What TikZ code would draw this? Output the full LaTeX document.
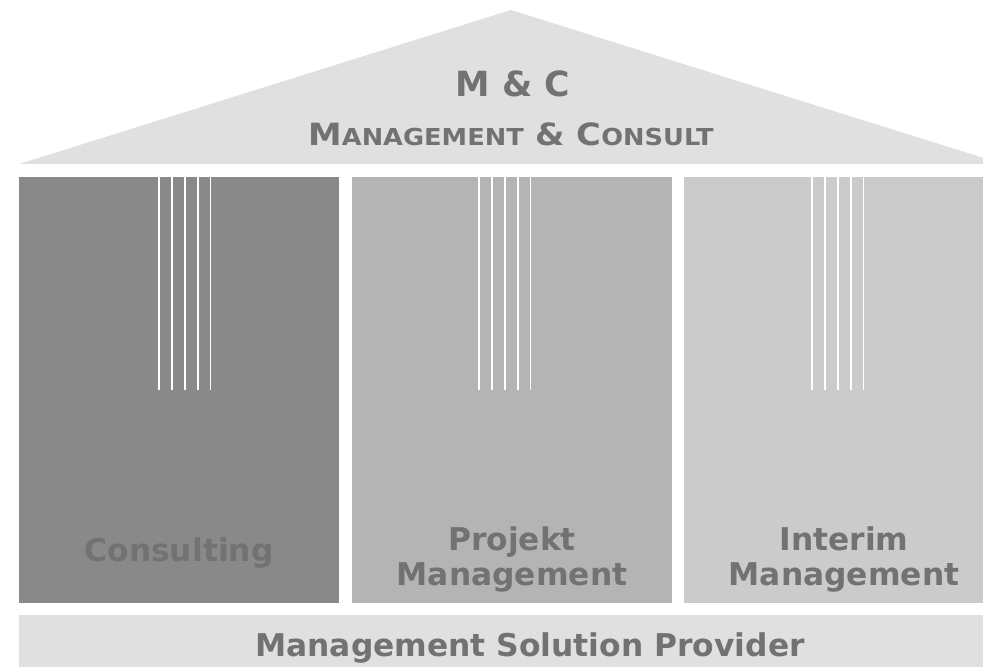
\documentclass[tikz,border=0pt]{standalone}
\usepackage{fontspec}
\setmainfont{DejaVu Sans}
\newfontfamily\widesans[FakeStretch=1.1]{DejaVu Sans}
\usepackage{tikz}
\usetikzlibrary{positioning}

\definecolor{roofgray}{HTML}{E0E0E0}
\definecolor{pillarA}{HTML}{898989}
\definecolor{pillarB}{HTML}{B4B4B4}
\definecolor{pillarC}{HTML}{CBCBCB}
\definecolor{textgray}{HTML}{727272}

\tikzset{
  pillartext/.style={text=textgray, font=\bfseries\fontsize{23.5}{26.25}\selectfont, align=center, inner sep=0pt},
  groove/.style={draw=white, line width=1.3pt}
}

\begin{document}
\begin{tikzpicture}[x=0.75pt,y=-0.75pt]
    \useasboundingbox (0,0) rectangle (983,667);
    \clip (0,0) rectangle (983,667);
    \fill[roofgray] (19,164) -- (511,10) -- (1003,164) -- cycle;
    \fill[pillarA] (19,177) rectangle (339,603);
    \fill[pillarB] (352,177) rectangle (672,603);
    \fill[pillarC] (684,177) rectangle (1004,603);
    \fill[roofgray] (19,615) rectangle (1004,690);
    \foreach \gx in {159,479,812}
      \foreach \i in {0,...,4}
        \draw[groove] (\gx+12.9*\i,177) -- (\gx+12.9*\i,390);
    \node[pillartext, anchor=base, font=\bfseries\fontsize{26}{30}\selectfont] (mc) at (513,97) {M \& C};
    \node[pillartext, anchor=base, font=\widesans\bfseries\fontsize{23}{26}\selectfont] (firm) at (511,146) {M{\fontsize{17.5}{20}\selectfont ANAGEMENT} \& C{\fontsize{17.5}{20}\selectfont ONSULT}};
    \node[pillartext, anchor=base] (consulting) at (179,561) {Consulting};
    \node[pillartext, anchor=base] (projekt) at (512,585) {Projekt\\Management};
    \node[pillartext, anchor=base] (interim) at (844,585) {Interim\\Management};
    \node[pillartext, anchor=base] (provider) at (530,656) {Management Solution Provider};
\end{tikzpicture}
\end{document}
